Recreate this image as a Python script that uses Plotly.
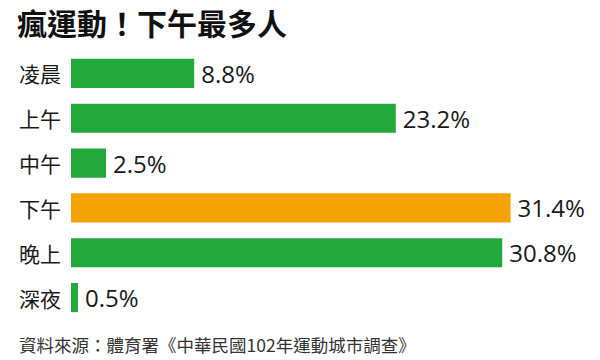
import plotly.graph_objects as go

categories = ["凌晨", "上午", "中午", "下午", "晚上", "深夜"]
values = [8.8, 23.2, 2.5, 31.4, 30.8, 0.5]
labels = ["8.8%", "23.2%", "2.5%", "31.4%", "30.8%", "0.5%"]
highlight = "下午"

GREEN = "#23A83B"
ORANGE = "#F5A302"
colors = [ORANGE if c == highlight else GREEN for c in categories]

W, H = 600, 360
L, R, T, B = 71, 0, 50.5, 39.5
pw = W - L - R

fig = go.Figure(go.Bar(
    x=values, y=categories, orientation="h",
    marker=dict(color=colors, line=dict(width=0)),
    width=0.65,
    text=["\u2009" + t for t in labels], textposition="outside", cliponaxis=False,
    constraintext="none",
    textfont=dict(family="Open Sans, Noto Sans", size=24, color="#1a1a1a"),
    hoverinfo="skip",
))

for c in categories:
    fig.add_annotation(
        x=(17 - L) / pw, xref="paper", y=c, yref="y",
        text=c, showarrow=False, xanchor="left", yanchor="middle",
        font=dict(family="Noto Sans CJK TC", size=21, color="#1a1a1a"),
    )

fig.add_annotation(
    x=(16 - L) / pw, xref="paper", y=1, yref="paper", yshift=50.5 - 21,
    text="<b>瘋運動！下午最多人</b>", showarrow=False, xanchor="left", yanchor="middle",
    borderpad=0,
    font=dict(family="Noto Sans CJK TC", size=30, color="#111111"),
)
fig.add_annotation(
    x=(17 - L) / pw, xref="paper", y=0, yref="paper", yshift=-(345 - 320.5),
    text="資料來源：體育署《中華民國102年運動城市調查》", showarrow=False,
    xanchor="left", yanchor="middle",
    font=dict(family="Noto Sans CJK TC", size=17.5, color="#333333"),
)

fig.update_layout(
    width=W, height=H,
    margin=dict(l=L, r=R, t=T, b=B),
    paper_bgcolor="white", plot_bgcolor="white",
    showlegend=False,
    xaxis=dict(range=[0, pw / 14.0], visible=False, fixedrange=True),
    yaxis=dict(categoryorder="array", categoryarray=categories,
               autorange="reversed", visible=False, fixedrange=True),
)

fig.write_html(
    "out.html",
    config={"displayModeBar": False},
    post_script="document.body.style.margin='0';document.body.style.padding='0';",
)
